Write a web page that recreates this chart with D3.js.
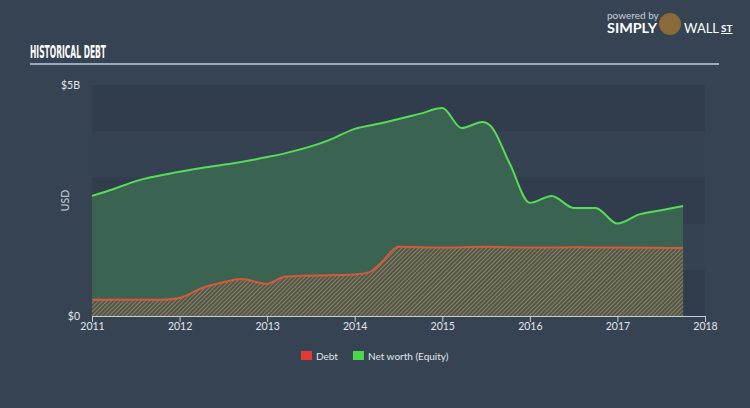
<!DOCTYPE html>
<html>
<head>
<meta charset="utf-8">
<script src="https://cdn.jsdelivr.net/npm/d3@7"></script>
<style>
  html, body { margin: 0; padding: 0; background: #354353; }
  svg { display: block; }
</style>
</head>
<body>
<div id="chart"></div>
<script>
// Historical debt vs net worth, values in billions USD
const netWorthDates = [2011.0, 2011.25, 2011.5, 2012.0, 2012.3, 2012.6, 2013.0, 2013.2, 2013.7, 2014.0, 2014.3, 2014.75, 2015.0, 2015.22, 2015.46, 2015.55, 2015.77, 2016.0, 2016.25, 2016.5, 2016.75, 2017.0, 2017.25, 2017.5, 2017.75];
const netWorthValues = [2.6, 2.75, 2.92, 3.12, 3.22, 3.3, 3.44, 3.52, 3.8, 4.05, 4.17, 4.38, 4.5, 4.07, 4.2, 4.12, 3.3, 2.45, 2.6, 2.34, 2.34, 2.0, 2.2, 2.29, 2.38];
const debtDates = [2011.0, 2011.8, 2012.0, 2012.25, 2012.5, 2012.7, 2013.0, 2013.2, 2013.4, 2014.0, 2014.17, 2014.3, 2014.5, 2015.0, 2015.5, 2016.0, 2016.5, 2017.0, 2017.75];
const debtValues = [0.35, 0.35, 0.39, 0.6, 0.73, 0.8, 0.7, 0.85, 0.87, 0.9, 0.95, 1.15, 1.5, 1.48, 1.5, 1.48, 1.49, 1.48, 1.47];
const yearTicks = [2011, 2012, 2013, 2014, 2015, 2016, 2017, 2018];
const yTickValues = [0, 5];
const yTickLabels = ["$0", "$5B"];
const legendItems = [
    { name: "Debt", color: "#e53935" },
    { name: "Net worth (Equity)", color: "#4cd64c" }
];

const width = 750, height = 408;
const margin = { top: 85, right: 45, bottom: 92, left: 92 };

const svg = d3.select("#chart").append("svg")
    .attr("width", width)
    .attr("height", height);

// Background
svg.append("rect").attr("width", width).attr("height", height).attr("fill", "#354353");

// Title
svg.append("text")
    .attr("x", 30).attr("y", 58)
    .attr("fill", "#ffffff")
    .attr("font-family", "'DejaVu Sans Condensed', 'Liberation Sans Narrow', sans-serif")
    .attr("font-weight", "bold")
    .attr("font-size", 17)
    .attr("textLength", 76)
    .attr("lengthAdjust", "spacingAndGlyphs")
    .text("HISTORICAL DEBT");
svg.append("line")
    .attr("x1", 30).attr("x2", 719).attr("y1", 64).attr("y2", 64)
    .attr("stroke", "#b8cfe3").attr("stroke-width", 1.5);

// Branding
svg.append("text")
    .attr("x", 607).attr("y", 19)
    .attr("fill", "#c9d1da").attr("font-family", "Lato, sans-serif").attr("font-size", 10)
    .text("powered by");
svg.append("text")
    .attr("x", 607).attr("y", 33)
    .attr("fill", "#ffffff").attr("font-family", "Lato, sans-serif").attr("font-weight", "bold").attr("font-size", 13)
    .attr("textLength", 50).attr("lengthAdjust", "spacingAndGlyphs")
    .text("SIMPLY");
svg.append("circle").attr("cx", 670).attr("cy", 24).attr("r", 11).attr("fill", "#8a6a3a");
svg.append("text")
    .attr("x", 684).attr("y", 33)
    .attr("fill", "#ffffff").attr("font-family", "Lato, sans-serif").attr("font-size", 13)
    .attr("textLength", 35).attr("lengthAdjust", "spacingAndGlyphs")
    .text("WALL");
svg.append("text")
    .attr("x", 721).attr("y", 32)
    .attr("fill", "#ffffff").attr("font-family", "Lato, sans-serif").attr("font-weight", "bold").attr("font-size", 10)
    .attr("text-decoration", "underline")
    .text("ST");

const x = d3.scaleLinear().domain([2011, 2018]).range([margin.left, width - margin.right]);
const y = d3.scaleLinear().domain([0, 5]).range([height - margin.bottom, margin.top]);

// Alternating bands
const bandEdges = d3.range(0, 5.01, 1);
for (let i = 0; i < 5; i++) {
    svg.append("rect")
        .attr("x", x(2011)).attr("width", x(2018) - x(2011))
        .attr("y", y(bandEdges[i + 1])).attr("height", y(bandEdges[i]) - y(bandEdges[i + 1]))
        .attr("fill", i % 2 === 0 ? "#313d4c" : "#354251");
}

// Hatch pattern for debt
const defs = svg.append("defs");
const pattern = defs.append("pattern")
    .attr("id", "hatch")
    .attr("patternUnits", "userSpaceOnUse")
    .attr("width", 3).attr("height", 3)
    .attr("patternTransform", "rotate(45)");
pattern.append("rect").attr("width", 3).attr("height", 3).attr("fill", "#4c5a4c");
pattern.append("line")
    .attr("x1", 0).attr("y1", 0).attr("x2", 0).attr("y2", 3)
    .attr("stroke", "#a98562").attr("stroke-width", 1.6);

const netWorth = netWorthDates.map((d, i) => ({ date: d, value: netWorthValues[i] }));
const debt = debtDates.map((d, i) => ({ date: d, value: debtValues[i] }));

const area = d3.area()
    .x(d => x(d.date)).y0(y(0)).y1(d => y(d.value))
    .curve(d3.curveMonotoneX);
const line = d3.line()
    .x(d => x(d.date)).y(d => y(d.value))
    .curve(d3.curveMonotoneX);

svg.append("path").datum(netWorth).attr("d", area).attr("fill", "#3b6352");
svg.append("path").datum(debt).attr("d", area).attr("fill", "url(#hatch)");
svg.append("path").datum(debt).attr("d", line)
    .attr("fill", "none").attr("stroke", "#d9573c").attr("stroke-width", 2);
svg.append("path").datum(netWorth).attr("d", line)
    .attr("fill", "none").attr("stroke", "#55dd55").attr("stroke-width", 2);

// X axis
const xAxis = svg.append("g")
    .attr("transform", `translate(0,${y(0)})`)
    .call(d3.axisBottom(x).tickValues(yearTicks).tickFormat(d3.format("d")).tickSize(6));
xAxis.select(".domain").attr("stroke", "#c8ced6");
xAxis.selectAll(".tick line").attr("stroke", "#c8ced6");
xAxis.selectAll(".tick text")
    .attr("fill", "#e3e7ec").attr("font-family", "Lato, sans-serif").attr("font-size", 10.5).attr("dy", "0.45em");

// Y labels
svg.selectAll(".ylab").data(yTickValues).enter().append("text")
    .attr("class", "ylab")
    .attr("x", 80).attr("y", d => y(d) + 4)
    .attr("text-anchor", "end")
    .attr("fill", "#e3e7ec").attr("font-family", "Lato, sans-serif").attr("font-size", 10.5)
    .text((d, i) => yTickLabels[i]);
svg.append("text")
    .attr("transform", `translate(69,${y(2.5)}) rotate(-90)`)
    .attr("text-anchor", "middle")
    .attr("fill", "#c8ced6").attr("font-family", "Lato, sans-serif").attr("font-size", 10.5)
    .text("USD");

// Legend
const legend = svg.append("g").attr("transform", "translate(301,356)");
let lx = 0;
legendItems.forEach(item => {
    legend.append("rect").attr("x", lx).attr("y", -5).attr("width", 11).attr("height", 9).attr("fill", item.color);
    const t = legend.append("text")
        .attr("x", lx + 15).attr("y", 4)
        .attr("fill", "#e3e7ec").attr("font-family", "Lato, sans-serif").attr("font-size", 10)
        .text(item.name);
    lx += 15 + t.node().getComputedTextLength() + 15;
});
</script>
</body>
</html>
